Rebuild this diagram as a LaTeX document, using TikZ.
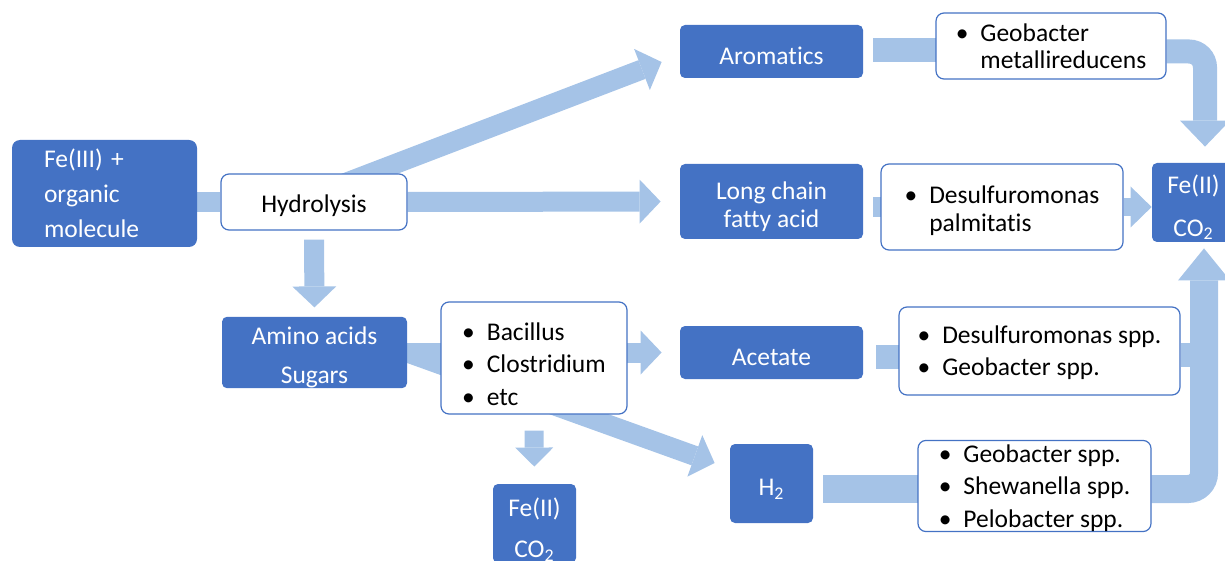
\documentclass[tikz,border=0pt]{standalone}
\usepackage{fontspec}
\setmainfont{Carlito}[Ligatures=NoCommon]
\usepackage{tikz}
\usetikzlibrary{arrows.meta}
\usetikzlibrary{backgrounds}
\usetikzlibrary{calc}
\definecolor{boxblue}{RGB}{68,114,196}
\definecolor{flowblue}{RGB}{165,195,231}
\newcommand{\bul}{\textbullet\hspace{6pt}}
\newcommand{\nobul}{\phantom{\textbullet}\hspace{6pt}}
\newcommand{\lift}[1]{\rule{0pt}{#1}}

\begin{document}
\begin{tikzpicture}[x=0.5pt,y=-0.5pt,font=\fontsize{12.75}{16}\selectfont]
\tikzstyle{stage} = [rectangle, fill=boxblue, text=white, rounded corners=2.5pt, align=center, inner sep=0pt]
\tikzstyle{microbe} = [rectangle, draw=boxblue, line width=0.6pt, fill=white, text=black, rounded corners=4pt, align=left, inner sep=0pt]
\tikzstyle{flow} = [draw=flowblue, line width=10pt, -{Triangle[length=10.5pt,width=22pt,line width=0pt]}]
\tikzstyle{feed} = [draw=flowblue, line width=12pt]

\useasboundingbox (0,0) rectangle (1225,561);

% left column
\node[stage, minimum width=92.5pt, minimum height=53.5pt, text width=60.5pt, inner xsep=16pt, align=left, rounded corners=4pt, font=\fontsize{12.75}{17.5}\selectfont] (fe3) at (104.5,193.5) {Fe(III) +\\organic\\molecule};
\node[microbe, minimum width=93pt, minimum height=28pt, align=center] (hyd) at (314,202) {\lift{12.5pt}Hydrolysis};
\node[stage, minimum width=92.5pt, minimum height=35.5pt, font=\fontsize{12.75}{19.5}\selectfont] (amino) at (314.5,352.5) {\lift{14pt}Amino acids\\Sugars};
\node[microbe, minimum width=93pt, minimum height=56pt, font=\fontsize{12.75}{16.25}\selectfont] (bac) at (534,358) {\lift{15pt}\bul Bacillus\\\bul Clostridium\\\bul etc};
\node[stage, minimum width=41.5pt, minimum height=39.5pt, font=\fontsize{12.75}{20.5}\selectfont] (febot) at (534.5,523.5) {\lift{15.5pt}Fe(II)\\CO\textsubscript{2}};

% middle column
\node[stage, minimum width=91.5pt, minimum height=26.5pt] (arom) at (771.5,51.5) {\lift{13.5pt}Aromatics};
\node[stage, minimum width=91.5pt, minimum height=37.5pt, font=\fontsize{12.75}{14}\selectfont] (lcfa) at (771.5,201.5) {\lift{14.5pt}Long chain\\fatty acid};
\node[stage, minimum width=91.5pt, minimum height=26.5pt] (acet) at (771.5,352.5) {\lift{13.5pt}Acetate};
\node[stage, minimum width=41.5pt, minimum height=39.5pt] (h2) at (771.5,483.5) {\lift{14pt}H\textsubscript{2}};

% right column
\node[microbe, minimum width=115pt, minimum height=33pt, font=\fontsize{12.75}{13.5}\selectfont] (geom) at (1051,46) {\bul Geobacter\\\nobul metallireducens};
\node[microbe, minimum width=121pt, minimum height=43pt, font=\fontsize{12.75}{14}\selectfont] (dpal) at (1002,207) {\lift{12.5pt}\bul Desulfuromonas\\\nobul palmitatis};
\node[microbe, minimum width=140.5pt, minimum height=44pt, font=\fontsize{12.75}{16}\selectfont] (dspp) at (1039.5,351) {\lift{11pt}\bul Desulfuromonas spp.\\\bul Geobacter spp.};
\node[microbe, minimum width=116.5pt, minimum height=43pt, font=\fontsize{12.75}{16.25}\selectfont] (gspp) at (1034.5,486) {\lift{11pt}\bul Geobacter spp.\\\bul Shewanella spp.\\\bul Pelobacter spp.};
\node[stage, minimum width=41.5pt, minimum height=39.5pt, font=\fontsize{12.75}{21.5}\selectfont] (feR) at (1193.5,202.5) {\lift{14pt}Fe(II)\\CO\textsubscript{2}};

\begin{scope}[on background layer]
\draw[feed, line width=10pt] (fe3.east |- hyd.west) -- (hyd.west);
\draw[flow] ($(hyd.center)+(0,-7)$) -- ($(arom.west)+(-18,10.5)$);
\draw[flow, shorten >=9.5pt] (hyd.east) -- (lcfa.west);
\draw[flow, shorten <=4.5pt, shorten >=4.5pt] (hyd.south) -- (amino.north);
\draw[flow, shorten >=9pt] (amino.east) -- (acet.west);
\draw[flow] (amino.east) -- ($(h2.west)+(-15,-20.5)$);
\draw[flow, line width=9.5pt, -{Triangle[length=9.5pt,width=19pt,line width=0pt]}, shorten <=8pt, shorten >=8.5pt] (bac.south) -- (febot.north);

\draw[feed] ($(arom.east)+(10,-1)$) -- ++(63,0);
\draw[flow, line width=12pt, -{Triangle[length=13pt,width=25pt,line width=0pt]}, rounded corners=8pt] (geom.east |- arom.east) -| ($(feR.north)+(11.5,-16)$);
\draw[feed, line width=10pt] ($(lcfa.east)+(10,5.5)$) -- ++(8,0);
\draw[flow, line width=9pt, -{Triangle[length=10.5pt,width=20.5pt,line width=0pt]}] (dpal.east) -- (dpal.east -| feR.west);
\draw[feed] ($(acet.east)+(13,4)$) -- ++(23,0);
\draw[feed] ($(dspp.east)+(0,4)$) -- ++(24,0);
\draw[feed, line width=14pt] ($(h2.east)+(10,5.5)$) -- ++(95,0);
\draw[flow, line width=14pt, -{Triangle[length=16pt,width=26pt,line width=0pt]}, rounded corners=8pt] ($(gspp.east)+(0,3)$) -| ($(feR.south)+(10.5,6)$);
\end{scope}
\end{tikzpicture}
\end{document}
